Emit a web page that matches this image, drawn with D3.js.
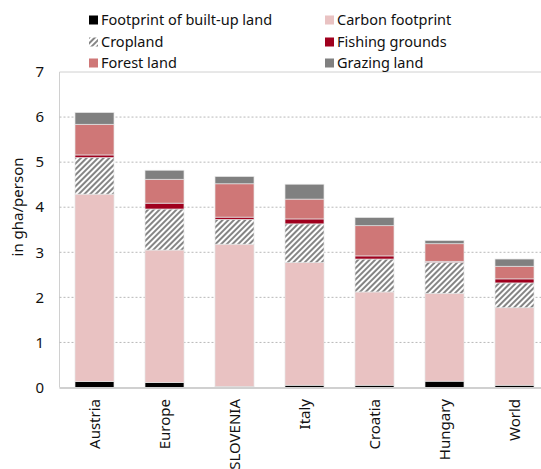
<!DOCTYPE html>
<html><head><meta charset="utf-8">
<script src="https://cdn.jsdelivr.net/npm/d3@7"></script>
<style>body{margin:0;background:#fff}svg{display:block}text{font-family:"Noto Sans",sans-serif}</style>
</head><body>
<svg id="c" width="541" height="469"></svg>
<script>
const categories = ["Austria","Europe","SLOVENIA","Italy","Croatia","Hungary","World"];
const seriesNames = ["Footprint of built-up land","Carbon footprint","Cropland","Fishing grounds","Forest land","Grazing land"];
const builtUp  = [0.13, 0.11, 0.02, 0.05, 0.05, 0.14, 0.05];
const carbon   = [4.16, 2.94, 3.16, 2.72, 2.07, 1.95, 1.72];
const cropland = [0.81, 0.91, 0.55, 0.86, 0.73, 0.69, 0.55];
const fishing  = [0.06, 0.13, 0.05, 0.11, 0.07, 0.02, 0.09];
const forest   = [0.68, 0.53, 0.74, 0.44, 0.67, 0.39, 0.28];
const grazing  = [0.26, 0.20, 0.16, 0.33, 0.18, 0.07, 0.16];
const yTicks = [0,1,2,3,4,5,6,7];
const colors = ["#000000","#e9c2c2","url(#hatch)","#a0001e","#cf7777","#808080"];

const svg = d3.select("#c");
const defs = svg.append("defs");
const pat = defs.append("pattern").attr("id","hatch").attr("patternUnits","userSpaceOnUse")
  .attr("width",4).attr("height",4).attr("patternTransform","rotate(45)");
pat.append("rect").attr("width",4).attr("height",4).attr("fill","#fff");
pat.append("rect").attr("width",2).attr("height",4).attr("fill","#858585");

const pL=59.5, pR=549.5, pT=72, pB=387.5;
const x = d3.scaleBand().domain(categories).range([pL,pR]).paddingInner(0.443).paddingOuter(0.2215);
const y = d3.scaleLinear().domain([0,7]).range([pB,pT]);

// frame
svg.append("line").attr("x1",pL).attr("x2",pR).attr("y1",pT).attr("y2",pT).attr("stroke","#d0d0d0").attr("stroke-width",1);
svg.append("line").attr("x1",pL).attr("x2",pL).attr("y1",pT).attr("y2",pB).attr("stroke","#d0d0d0").attr("stroke-width",1);
// grid
svg.append("g").selectAll("line").data(yTicks.filter(t=>t>0&&t<7)).join("line")
  .attr("x1",pL).attr("x2",pR).attr("y1",d=>y(d)).attr("y2",d=>y(d))
  .attr("stroke","#b8b8b8").attr("stroke-width",1).attr("stroke-dasharray","2,2");

const data = categories.map((c,i)=>({cat:c, v:[builtUp[i],carbon[i],cropland[i],fishing[i],forest[i],grazing[i]]}));
const keys = [0,1,2,3,4,5];
const stack = d3.stack().keys(keys).value((d,k)=>d.v[k]);
const layers = stack(data);
svg.append("g").selectAll("g").data(layers).join("g").attr("fill",(d,i)=>colors[i])
  .selectAll("rect").data(d=>d).join("rect")
  .attr("x",d=>x(d.data.cat)).attr("width",x.bandwidth())
  .attr("y",d=>y(d[1])).attr("height",d=>y(d[0])-y(d[1]))
  .attr("stroke","#e4e4e4").attr("stroke-width",0.7);

// bottom axis line
svg.append("line").attr("x1",pL).attr("x2",pR).attr("y1",pB+0.5).attr("y2",pB+0.5).attr("stroke","#d0d0d0").attr("stroke-width",2);

// y labels
svg.append("g").selectAll("text").data(yTicks).join("text")
  .attr("x",44).attr("y",d=>y(d)).attr("dy","0.35em").attr("text-anchor","end")
  .attr("font-size",15).attr("fill","#111").text(d=>d);
svg.append("text").attr("transform","translate(23,207) rotate(-90)").attr("text-anchor","middle")
  .attr("font-size",15).attr("fill","#111").text("in gha/person");

// x labels
svg.append("g").selectAll("text").data(categories).join("text")
  .attr("transform",d=>`translate(${x(d)+x.bandwidth()/2},399) rotate(-90)`)
  .attr("dy","0.35em").attr("text-anchor","end").attr("font-size",15).attr("fill","#111").text(d=>d);

// legend
const legPos = [[89,20],[325,20],[89,42],[325,42],[89,63],[325,63]];
const lg = svg.append("g").selectAll("g").data(seriesNames).join("g")
  .attr("transform",(d,i)=>`translate(${legPos[i][0]},${legPos[i][1]})`);
lg.append("rect").attr("x",0).attr("y",-4.5).attr("width",9).attr("height",9).attr("fill",(d,i)=>colors[i]);
lg.append("text").attr("x",12).attr("dy","0.35em").attr("font-size",14.5).attr("fill","#111").text(d=>d);
</script>
</body></html>
